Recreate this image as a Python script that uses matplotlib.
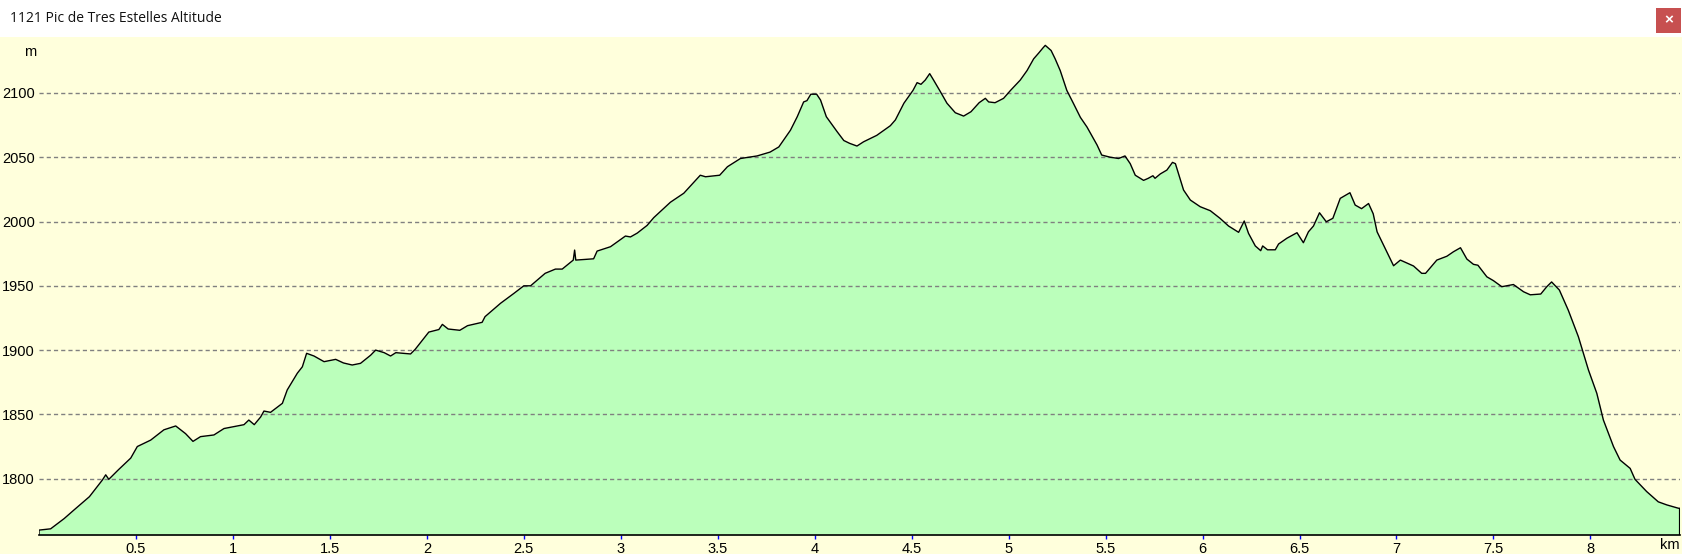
# Altitude profile - 1121 Pic de Tres Estelles
import numpy as np
import matplotlib
matplotlib.use("Agg")
import matplotlib.pyplot as plt
from matplotlib.patches import Rectangle

title = "1121 Pic de Tres Estelles Altitude"

dist_km = [
    0.0, 0.06, 0.13, 0.18, 0.26, 0.327, 0.344, 0.36, 0.41, 0.473,
    0.507, 0.576, 0.644, 0.705, 0.756, 0.794, 0.833, 0.902, 0.954, 1.057,
    1.082, 1.11, 1.143, 1.16, 1.194, 1.255, 1.28, 1.332, 1.358, 1.38,
    1.418, 1.47, 1.53, 1.57, 1.615, 1.658, 1.71, 1.736, 1.78, 1.813,
    1.84, 1.916, 1.94, 2.01, 2.062, 2.08, 2.11, 2.17, 2.21, 2.285,
    2.30, 2.38, 2.448, 2.5, 2.535, 2.61, 2.663, 2.698, 2.755, 2.762,
    2.768, 2.86, 2.878, 2.947, 2.98, 3.024, 3.05, 3.085, 3.136, 3.17,
    3.256, 3.325, 3.38, 3.41, 3.437, 3.51, 3.55, 3.617, 3.703, 3.77,
    3.815, 3.875, 3.91, 3.943, 3.96, 3.98, 4.01, 4.03, 4.06, 4.115,
    4.15, 4.18, 4.218, 4.252, 4.32, 4.39, 4.416, 4.46, 4.507, 4.528,
    4.548, 4.57, 4.593, 4.613, 4.648, 4.682, 4.725, 4.768, 4.806, 4.848,
    4.88, 4.897, 4.93, 4.974, 5.01, 5.06, 5.095, 5.129, 5.155, 5.177,
    5.189, 5.219, 5.24, 5.266, 5.3, 5.335, 5.37, 5.404, 5.43, 5.456,
    5.48, 5.524, 5.567, 5.6, 5.627, 5.653, 5.696, 5.72, 5.744, 5.755,
    5.782, 5.816, 5.845, 5.86, 5.902, 5.937, 5.988, 6.04, 6.09, 6.134,
    6.186, 6.215, 6.237, 6.272, 6.3, 6.31, 6.335, 6.375, 6.392, 6.435,
    6.487, 6.52, 6.546, 6.572, 6.603, 6.638, 6.672, 6.71, 6.76, 6.787,
    6.82, 6.856, 6.88, 6.9, 6.95, 6.985, 7.02, 7.088, 7.13, 7.15,
    7.208, 7.26, 7.294, 7.33, 7.363, 7.397, 7.42, 7.466, 7.5, 7.543,
    7.603, 7.655, 7.69, 7.744, 7.775, 7.8, 7.84, 7.886, 7.938, 7.99,
    8.033, 8.067, 8.119, 8.153, 8.205, 8.23, 8.29, 8.35, 8.394, 8.454,
    8.46,
]

altitude_m = [
    1760, 1761, 1769, 1775.6, 1786, 1799, 1803, 1799.5, 1807, 1816,
    1825, 1830, 1838, 1841, 1835, 1829, 1832.7, 1834, 1839, 1842,
    1845.6, 1842, 1848, 1852.6, 1851.6, 1858.6, 1869, 1882, 1887, 1897.5,
    1895.4, 1891, 1892.8, 1890, 1888.4, 1889.7, 1896, 1900, 1898, 1895.4,
    1898, 1897, 1900.6, 1914, 1916, 1920, 1916.4, 1915.4, 1919, 1921.6,
    1926, 1936.4, 1944, 1950, 1950, 1959.7, 1963, 1963, 1970, 1977.8,
    1970, 1971, 1977, 1980.4, 1984, 1988.7, 1988, 1991, 1997, 2003,
    2015, 2022, 2031, 2036, 2034.8, 2036, 2042.6, 2049, 2051, 2054,
    2058, 2071, 2081.5, 2093, 2094, 2099, 2099, 2094.5, 2081.5, 2070,
    2063, 2060.8, 2058.7, 2062, 2067, 2074.5, 2079, 2092, 2102, 2108,
    2106.7, 2110, 2115, 2110, 2101, 2092, 2084.6, 2082, 2085.4, 2092.4,
    2095.8, 2093, 2092.4, 2095.8, 2102, 2110, 2117.4, 2126.5, 2131, 2135,
    2137, 2133, 2126.5, 2117.4, 2102, 2091.6, 2081, 2073.5, 2066.5, 2059.5,
    2051.7, 2050, 2049, 2051, 2045, 2036, 2032, 2033.6, 2035.6, 2033.6,
    2037, 2040, 2046, 2045, 2024.5, 2016.7, 2011.5, 2008.4, 2002.5, 1996.5,
    1991.6, 2000.4, 1990.8, 1981, 1977.3, 1981, 1978, 1978, 1982.5, 1987,
    1991.3, 1983.5, 1992, 1996.5, 2006.8, 1999.8, 2002.5, 2018, 2022.4, 2012.8,
    2010, 2014, 2006, 1992, 1976.5, 1965.6, 1970, 1965.4, 1959.7, 1959.7,
    1970, 1973, 1976.5, 1979.6, 1970.8, 1966.7, 1966, 1957, 1954, 1949.3,
    1951, 1945.4, 1943, 1943.6, 1949.3, 1953, 1946.7, 1931, 1910.4, 1884.5,
    1866.4, 1845.6, 1825, 1814.5, 1808, 1799.5, 1790, 1782, 1779.6, 1777,
    1777,
]

x_ticks = [0.5, 1, 1.5, 2, 2.5, 3, 3.5, 4, 4.5, 5, 5.5, 6, 6.5, 7, 7.5, 8]
x_tick_labels = ["0.5", "1", "1.5", "2", "2.5", "3", "3.5", "4", "4.5", "5",
                 "5.5", "6", "6.5", "7", "7.5", "8"]
y_ticks = [1800, 1850, 1900, 1950, 2000, 2050, 2100]

BG = "#FFFFDC"
FILL = "#BBFFBB"

plt.rcParams['font.family'] = ['Liberation Sans', 'DejaVu Sans']

W, H = 1682, 554
fig = plt.figure(figsize=(W / 100, H / 100), dpi=100, facecolor=BG)

# title bar
fig.patches.append(Rectangle((0, 1 - 37 / H), 1, 37 / H, transform=fig.transFigure,
                             facecolor="white", edgecolor="none", zorder=0))
fig.text(10 / W, 1 - 18 / H, title, fontsize=10, family=['Open Sans', 'DejaVu Sans'],
         ha="left", va="center", color="#111111")
# close button
fig.patches.append(Rectangle((1656 / W, 1 - 33 / H), 25 / W, 25 / H, transform=fig.transFigure,
                             facecolor="#C75050", edgecolor="none", zorder=1))
fig.text(1668.5 / W, 1 - 20.5 / H, "×", fontsize=11, color="white",
         ha="center", va="center", fontweight="bold", zorder=2)

ax = fig.add_axes([39 / W, 19 / H, 1641 / W, 498 / H])
ax.set_facecolor(BG)

y_min, y_max = 1756.2, 2143.5
ax.set_xlim(0, 8.462)
ax.set_ylim(y_min, y_max)

x = np.array(dist_km)
y = np.array(altitude_m)
ax.fill_between(x, y_min, y, color=FILL, lw=0, zorder=1)
ax.plot(np.r_[x[0], x, x[-1]], np.r_[y_min, y, y_min], color="black", lw=1.0, zorder=3)

for v in y_ticks:
    ax.axhline(v, color="#808080", lw=1.0, ls=(0, (3, 2.2)), zorder=2)

for s in ["left", "right", "top"]:
    ax.spines[s].set_visible(False)
ax.spines["bottom"].set_color("black")
ax.spines["bottom"].set_linewidth(1.2)
ax.spines["bottom"].set_zorder(4)

ax.set_xticks(x_ticks)
ax.set_xticklabels(x_tick_labels)
ax.tick_params(axis="x", direction="out", length=3, width=1, color="blue",
               labelsize=10.5, pad=2)
ax.set_yticks(y_ticks)
ax.set_yticklabels([str(v) for v in y_ticks])
ax.tick_params(axis="y", length=0, labelsize=10.5, pad=3)

fig.text(30 / W, 1 - 52 / H, "m", fontsize=10.5, ha="center", va="center")
fig.text(1680 / W, 1 - 545 / H, "km", fontsize=10.5, ha="right", va="center")

fig.savefig("out.png", dpi=100, facecolor=BG)
